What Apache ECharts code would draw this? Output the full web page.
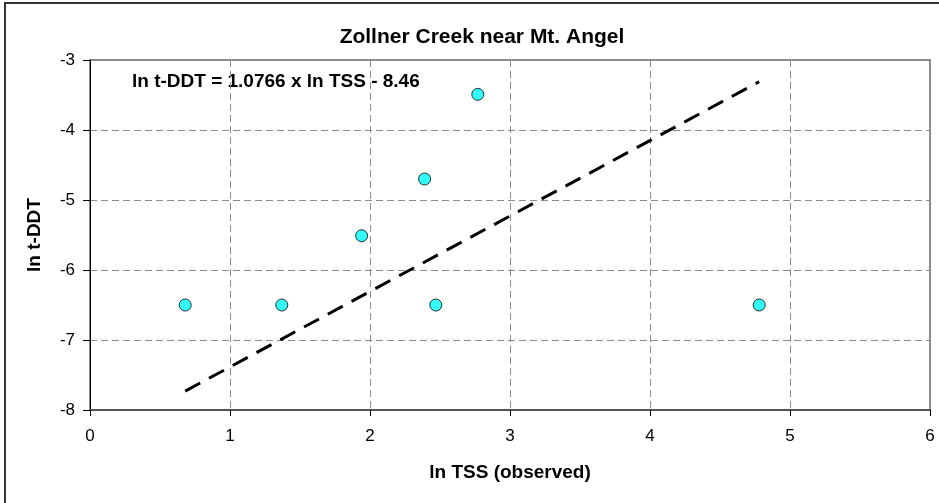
<!DOCTYPE html>
<html>
<head>
<meta charset="utf-8">
<script src="https://cdn.jsdelivr.net/npm/echarts@6/dist/echarts.min.js"></script>
<style>
  html, body { margin: 0; padding: 0; background: #fff; }
  #chart { width: 939px; height: 503px; }
</style>
</head>
<body>
<div id="chart"></div>
<script>
  // observed points (ln TSS, ln t-DDT)
  const lnTSS = [0.68, 1.37, 1.94, 2.39, 2.47, 2.77, 4.78];
  const lnDDT = [-6.5, -6.5, -5.51, -4.70, -6.5, -3.49, -6.5];
  // regression line end points as drawn
  const trendX = [0.68, 4.78];
  const trendY = [-7.73, -3.31];
  const xTicks = [0, 1, 2, 3, 4, 5, 6];
  const yTicks = [-8, -7, -6, -5, -4, -3];

  const font = 'Liberation Sans, Arial, sans-serif';
  const chart = echarts.init(document.getElementById('chart'));

  chart.setOption({
    animation: false,
    backgroundColor: '#fff',
    title: {
      text: 'Zollner Creek near Mt. Angel',
      left: 477,
      top: 22,
      textAlign: 'center',
      textStyle: { fontFamily: font, fontSize: 21, fontWeight: 'bold', color: '#000' }
    },
    grid: {
      left: 90, right: 9, top: 60, bottom: 93,
      show: true,
      borderColor: '#8c8c8c',
      borderWidth: 2,
      backgroundColor: '#fff'
    },
    xAxis: {
      type: 'value',
      min: xTicks[0],
      max: xTicks[xTicks.length - 1],
      interval: 1,
      name: 'ln TSS (observed)',
      nameLocation: 'middle',
      nameGap: 53,
      nameTextStyle: { fontFamily: font, fontSize: 19, fontWeight: 'bold', color: '#000' },
      axisLine: { show: true, onZero: false, lineStyle: { color: '#555', width: 2 } },
      axisTick: { show: true, inside: false, length: 6, lineStyle: { color: '#000' } },
      axisLabel: { fontFamily: font, fontSize: 17, color: '#000', margin: 18 },
      splitLine: { show: true, lineStyle: { color: '#8c8c8c', type: [7, 4], width: 1 } }
    },
    yAxis: {
      type: 'value',
      min: yTicks[0],
      max: yTicks[yTicks.length - 1],
      interval: 1,
      name: 'ln t-DDT',
      nameLocation: 'middle',
      nameGap: 46,
      nameTextStyle: { fontFamily: font, fontSize: 19, fontWeight: 'bold', color: '#000' },
      axisLine: { show: true, onZero: false, lineStyle: { color: '#000', width: 1 } },
      axisTick: { show: true, inside: false, length: 7, lineStyle: { color: '#000' } },
      axisLabel: { fontFamily: font, fontSize: 17, color: '#000', margin: 15 },
      splitLine: { show: true, lineStyle: { color: '#8c8c8c', type: [7, 4], width: 1 } }
    },
    graphic: [
      {
        type: 'rect',
        silent: true,
        shape: { x: 5, y: 3, width: 960, height: 520 },
        style: { fill: 'none', stroke: '#333', lineWidth: 2 }
      },
      {
        type: 'text',
        left: 132,
        top: 72,
        style: {
          text: 'ln t-DDT = 1.0766 x ln TSS - 8.46',
          font: 'bold 19px ' + font,
          fill: '#000'
        }
      }
    ],
    series: [
      {
        type: 'line',
        data: trendX.map((x, i) => [x, trendY[i]]),
        symbol: 'none',
        lineStyle: { color: '#000', width: 3, type: [17, 10] },
        z: 2
      },
      {
        type: 'scatter',
        data: lnTSS.map((x, i) => [x, lnDDT[i]]),
        symbol: 'circle',
        symbolSize: 12,
        itemStyle: { color: '#00ffff', borderColor: '#000', borderWidth: 1 },
        z: 3
      }
    ]
  });
</script>
</body>
</html>
